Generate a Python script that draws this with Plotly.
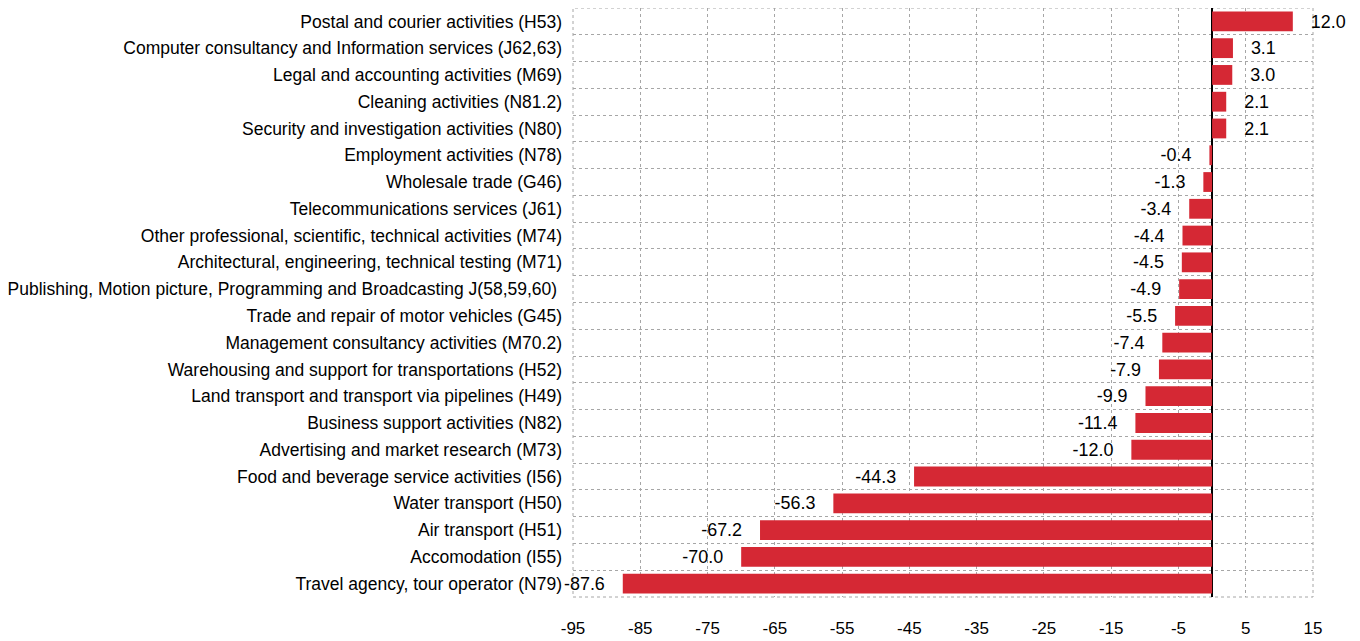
import plotly.graph_objects as go

categories = [
    "Postal and courier activities (H53)",
    "Computer consultancy and Information services (J62,63)",
    "Legal and accounting activities (M69)",
    "Cleaning activities (N81.2)",
    "Security and investigation activities (N80)",
    "Employment activities (N78)",
    "Wholesale trade (G46)",
    "Telecommunications services (J61)",
    "Other professional, scientific, technical activities (M74)",
    "Architectural, engineering, technical testing (M71)",
    "Publishing, Motion picture, Programming and Broadcasting J(58,59,60) ",
    "Trade and repair of motor vehicles (G45)",
    "Management consultancy activities (M70.2)",
    "Warehousing and support for transportations (H52)",
    "Land transport and transport via pipelines (H49)",
    "Business support activities (N82)",
    "Advertising and market research (M73)",
    "Food and beverage service activities (I56)",
    "Water transport (H50)",
    "Air transport (H51)",
    "Accomodation (I55)",
    "Travel agency, tour operator (N79)",
]
values = [12.0, 3.1, 3.0, 2.1, 2.1, -0.4, -1.3, -3.4, -4.4, -4.5, -4.9, -5.5,
          -7.4, -7.9, -9.9, -11.4, -12.0, -44.3, -56.3, -67.2, -70.0, -87.6]
tick_vals = [-95, -85, -75, -65, -55, -45, -35, -25, -15, -5, 5, 15]

FONT = "Liberation Sans, Arial, sans-serif"
PAD = "\u00a0\u00a0\u00a0"
labels = [(PAD + f"{v:.1f}") if v >= 0 else (f"{v:.1f}" + PAD) for v in values]

fig = go.Figure(go.Bar(
    x=values, y=categories, orientation="h",
    marker=dict(color="#d52834", line=dict(width=0)),
    width=0.74,
    text=labels,
    textposition="outside",
    textfont=dict(family=FONT, size=19, color="black"),
    cliponaxis=False,
))

fig.update_layout(
    width=1352, height=633,
    margin=dict(l=565, r=47, t=0, b=44, autoexpand=False),
    plot_bgcolor="white", paper_bgcolor="white",
    showlegend=False,
    font=dict(family=FONT, size=17, color="black"),
    xaxis=dict(
        range=[-95, 15], tickvals=tick_vals, ticktext=[str(t) for t in tick_vals],
        showgrid=True, gridcolor="#a6a6a6", griddash="dot", gridwidth=1,
        zeroline=True, zerolinecolor="black", zerolinewidth=2,
        ticks="outside", ticklen=16, tickcolor="rgba(0,0,0,0)",
        tickfont=dict(family=FONT, size=17, color="black"),
        showline=False, automargin=False,
    ),
    yaxis=dict(
        autorange="reversed", tickson="boundaries",
        showgrid=True, gridcolor="#a6a6a6", griddash="dot", gridwidth=1,
        ticks="", ticklabelstandoff=10,
        tickfont=dict(family=FONT, size=17.5, color="black"),
        showline=False, automargin=False,
    ),
)
fig.add_shape(type="rect", xref="paper", yref="paper", x0=0, x1=1, y0=0, y1=1,
              line=dict(color="#a6a6a6", width=1, dash="dot"), layer="below")

fig.write_html("out.html")
